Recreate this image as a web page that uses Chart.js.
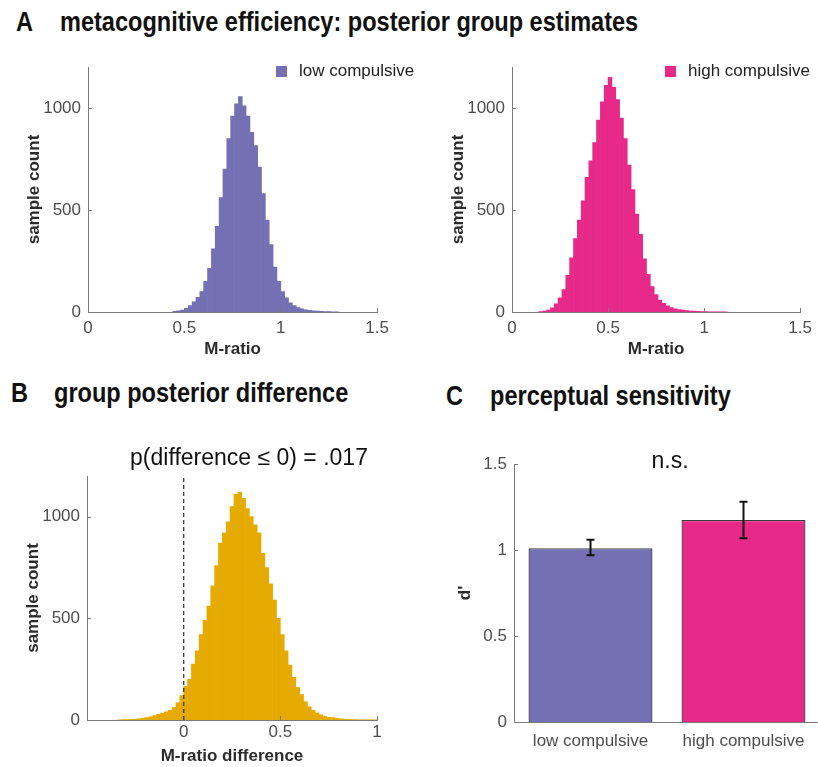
<!DOCTYPE html>
<html>
<head>
<meta charset="utf-8">
<script src="https://cdn.jsdelivr.net/npm/chart.js@4.4.1/dist/chart.umd.min.js"></script>
<style>
  body { margin: 0; width: 818px; height: 767px; overflow: hidden; position: relative; background: #fff;
         font-family: "Liberation Sans", Arial, sans-serif; }
  canvas { position: absolute; }
  /* the figure uses a condensed bold face for panel headings */
  .ttl { position: absolute; white-space: nowrap; line-height: 1; color: #111; transform: scaleX(0.826); transform-origin: 0 0;
         font-family: "Liberation Sans", Arial, sans-serif; font-weight: bold; font-size: 28.5px; }
  .note { position: absolute; white-space: nowrap; line-height: 1; color: #111; font-size: 23px; transform: translate(-50%, -50%); }
  .sw { position: absolute; width: 11px; height: 11px; }
  .lg { position: absolute; white-space: nowrap; line-height: 1; font-size: 17px; color: #222; }
</style>
</head>
<body>
<div class="ttl" style="left:16px;top:7px">A</div>
<div class="ttl" style="left:60px;top:7px">metacognitive efficiency: posterior group estimates</div>
<div class="ttl" style="left:11px;top:378px">B</div>
<div class="ttl" style="left:54px;top:378px">group posterior difference</div>
<div class="ttl" style="left:446px;top:381px">C</div>
<div class="ttl" style="left:490px;top:381px">perceptual sensitivity</div>

<canvas id="histLow" width="395" height="322" style="left:0;top:40px"></canvas>
<canvas id="histHigh" width="398" height="322" style="left:420px;top:40px"></canvas>
<canvas id="histDiff" width="389" height="327" style="left:0;top:440px"></canvas>
<canvas id="barDprime" width="380" height="327" style="left:440px;top:440px"></canvas>

<div class="sw" style="left:276px;top:66px;background:#7570b3"></div>
<div class="lg" style="left:299px;top:62px">low compulsive</div>
<div class="sw" style="left:665px;top:66px;background:#e7298a"></div>
<div class="lg" style="left:688px;top:62px">high compulsive</div>

<div class="note" style="left:249px;top:457px">p(difference ≤ 0) = .017</div>
<div class="note" style="left:670px;top:460px">n.s.</div>

<script>
// posterior samples of M-ratio, binned (bin centres, 0.02 wide) - counts
const lowBins = [0.45, 0.47, 0.49, 0.51, 0.53, 0.55, 0.57, 0.59, 0.61, 0.63, 0.65, 0.67, 0.69, 0.71, 0.73,
  0.75, 0.77, 0.79, 0.81, 0.83, 0.85, 0.87, 0.89, 0.91, 0.93, 0.95, 0.97, 0.99, 1.01, 1.03, 1.05, 1.07,
  1.09, 1.11, 1.13, 1.15, 1.17, 1.19, 1.21, 1.23, 1.25, 1.27, 1.29];
const lowCounts = [3, 6, 10, 18, 32, 50, 72, 100, 150, 214, 310, 420, 560, 700, 850,
  960, 1020, 1055, 1010, 960, 880, 815, 710, 580, 450, 330, 220, 150, 100, 70, 45, 32,
  22, 15, 11, 8, 6, 4, 3, 2, 2, 1, 1];

const highBins = [0.15, 0.17, 0.19, 0.21, 0.23, 0.25, 0.27, 0.29, 0.31, 0.33, 0.35, 0.37, 0.39, 0.41, 0.43,
  0.45, 0.47, 0.49, 0.51, 0.53, 0.55, 0.57, 0.59, 0.61, 0.63, 0.65, 0.67, 0.69, 0.71, 0.73, 0.75, 0.77,
  0.79, 0.81, 0.83, 0.85, 0.87, 0.89, 0.91, 0.93, 0.95, 0.97, 0.99, 1.01, 1.03, 1.05, 1.07, 1.09, 1.11];
const highCounts = [2, 5, 10, 20, 40, 70, 110, 180, 265, 360, 450, 545, 660, 740, 830,
  940, 1030, 1110, 1150, 1100, 1040, 950, 850, 720, 600, 480, 380, 260, 185, 125, 85, 58,
  42, 30, 22, 16, 12, 9, 7, 5, 4, 3, 2, 2, 1, 1, 1, 1, 1];

// group difference (low - high)
const diffBins = [-0.33, -0.31, -0.29, -0.27, -0.25, -0.23, -0.21, -0.19, -0.17, -0.15, -0.13, -0.11,
  -0.09, -0.07, -0.05, -0.03, -0.01, 0.01, 0.03, 0.05, 0.07, 0.09, 0.11, 0.13, 0.15, 0.17, 0.19, 0.21,
  0.23, 0.25, 0.27, 0.29, 0.31, 0.33, 0.35, 0.37, 0.39, 0.41, 0.43, 0.45, 0.47, 0.49, 0.51, 0.53, 0.55,
  0.57, 0.59, 0.61, 0.63, 0.65, 0.67, 0.69, 0.71, 0.73, 0.75, 0.77, 0.79, 0.81, 0.83, 0.85, 0.87, 0.89,
  0.91, 0.93, 0.95, 0.97, 0.99];
const diffCounts = [1, 2, 2, 3, 4, 6, 9, 12, 16, 22, 28, 34,
  40, 48, 62, 85, 120, 165, 200, 275, 340, 420, 490, 560, 660, 760, 870, 920,
  975, 1050, 1110, 1120, 1090, 1040, 1000, 960, 920, 820, 750, 670, 590, 500, 420, 340, 270,
  210, 160, 125, 90, 65, 48, 35, 26, 18, 13, 12, 9, 6, 4, 3, 2, 2,
  1, 1, 1, 1, 1];

// d' per group with error bar ends
const groups = ['low compulsive', 'high compulsive'];
const dprime = [1.01, 1.175];
const dprimeLo = [0.97, 1.068];
const dprimeHi = [1.06, 1.28];

const mRatioTicks = [0, 0.5, 1, 1.5];
const diffTicks = [0, 0.5, 1];
const countTicks = [0, 500, 1000];
const dprimeTicks = [0, 0.5, 1, 1.5];

const PURPLE = '#7570b3';
const PINK = '#e7298a';
const GOLD = '#e6ab02';
const AXIS = '#7a7a7a';
const TICK_TXT = '#4d4d4d';
const TITLE_TXT = '#2b2b2b';
const tickFont = { family: 'Liberation Sans', size: 17 };
const titleFont = { family: 'Liberation Sans', size: 17, weight: 'bold' };

// MATLAB-style tick marks pointing into the axes
const innerTicks = {
  id: 'innerTicks',
  afterDraw(chart, args, opts) {
    const { ctx, chartArea, scales } = chart;
    ctx.save();
    ctx.strokeStyle = AXIS;
    ctx.lineWidth = 1;
    if (opts.x) {
      scales.x.ticks.forEach(t => {
        const px = Math.round(scales.x.getPixelForValue(t.value)) + 0.5;
        ctx.beginPath(); ctx.moveTo(px, chartArea.bottom); ctx.lineTo(px, chartArea.bottom - 4); ctx.stroke();
      });
    }
    if (opts.y) {
      scales.y.ticks.forEach(t => {
        const py = Math.round(scales.y.getPixelForValue(t.value)) + 0.5;
        ctx.beginPath(); ctx.moveTo(chartArea.left, py); ctx.lineTo(chartArea.left + 4, py); ctx.stroke();
      });
    }
    ctx.restore();
  }
};

const errorBars = {
  id: 'errorBars',
  afterDatasetsDraw(chart, args, opts) {
    if (!opts.lo) return;
    const { ctx, scales } = chart;
    ctx.save();
    ctx.strokeStyle = '#111';
    ctx.lineWidth = 2;
    opts.lo.forEach((lo, i) => {
      const x = scales.x.getPixelForValue(i);
      const y1 = scales.y.getPixelForValue(lo);
      const y2 = scales.y.getPixelForValue(opts.hi[i]);
      ctx.beginPath();
      ctx.moveTo(x, y1); ctx.lineTo(x, y2);
      ctx.moveTo(x - 4, y1); ctx.lineTo(x + 4, y1);
      ctx.moveTo(x - 4, y2); ctx.lineTo(x + 4, y2);
      ctx.stroke();
    });
    ctx.restore();
  }
};

function fixedTicks(values) {
  return scale => { scale.ticks = values.map(v => ({ value: v })); };
}

function makeHist(id, bins, counts, color, o) {
  const datasets = [{
    type: 'bar',
    data: bins.map((b, i) => ({ x: b, y: counts[i] })),
    backgroundColor: color,
    borderWidth: 0,
    barPercentage: 1,
    categoryPercentage: 1,
    order: 2
  }];
  if (o.refLine) {
    datasets.push({
      type: 'line',
      data: [{ x: 0, y: 0 }, { x: 0, y: 1200 }],
      borderColor: '#444',
      borderWidth: 1.4,
      borderDash: [4, 3],
      pointRadius: 0,
      order: 1
    });
  }
  return new Chart(document.getElementById(id), {
    type: 'bar',
    data: { datasets },
    plugins: [innerTicks],
    options: {
      responsive: false,
      animation: false,
      events: [],
      layout: { padding: o.padding },
      plugins: { legend: { display: false }, tooltip: { enabled: false }, innerTicks: { x: true, y: true } },
      scales: {
        x: {
          type: 'linear', min: o.xMin, max: o.xMax, offset: false,
          afterBuildTicks: fixedTicks(o.xTicks),
          afterFit: s => { s.height = o.xH; },
          grid: { display: false, drawTicks: false },
          border: { color: AXIS, width: 1 },
          ticks: { font: tickFont, color: TICK_TXT, padding: o.xPad, maxRotation: 0, callback: v => String(v) },
          title: { display: true, text: o.xTitle, font: titleFont, color: TITLE_TXT, padding: { top: 0, bottom: o.xTitlePad } }
        },
        y: {
          min: 0, max: 1200,
          afterBuildTicks: fixedTicks(countTicks),
          afterFit: s => { s.width = o.yW; },
          grid: { display: false, drawTicks: false },
          border: { color: AXIS, width: 1 },
          ticks: { font: tickFont, color: TICK_TXT, padding: 7, callback: v => String(v) },
          title: { display: true, text: 'sample count', font: titleFont, color: TITLE_TXT, padding: { top: o.yTitlePad, bottom: 0 } }
        }
      }
    }
  });
}

makeHist('histLow', lowBins, lowCounts, PURPLE, {
  padding: { top: 27, right: 15, left: 0, bottom: 0 },
  xMin: 0, xMax: 1.5, xTicks: mRatioTicks, xH: 50, xPad: 6, xTitle: 'M-ratio', xTitlePad: 2,
  yW: 88, yTitlePad: 24
});

makeHist('histHigh', highBins, highCounts, PINK, {
  padding: { top: 27, right: 15, left: 0, bottom: 0 },
  xMin: 0, xMax: 1.5, xTicks: mRatioTicks, xH: 50, xPad: 6, xTitle: 'M-ratio', xTitlePad: 2,
  yW: 92, yTitlePad: 28
});

makeHist('histDiff', diffBins, diffCounts, GOLD, {
  padding: { top: 36, right: 12, left: 0, bottom: 0 },
  xMin: -0.5, xMax: 1, xTicks: diffTicks, xH: 47, xPad: 2, xTitle: 'M-ratio difference', xTitlePad: 0,
  yW: 87, yTitlePad: 23, refLine: true
});

new Chart(document.getElementById('barDprime'), {
  type: 'bar',
  data: {
    labels: groups,
    datasets: [{
      data: dprime,
      backgroundColor: [PURPLE, PINK],
      borderColor: '#3a3a3a',
      borderWidth: 1.3,
      barPercentage: 0.81,
      categoryPercentage: 1
    }]
  },
  plugins: [innerTicks, errorBars],
  options: {
    responsive: false,
    animation: false,
    events: [],
    layout: { padding: { top: 24, right: 0, left: 0, bottom: 0 } },
    plugins: {
      legend: { display: false }, tooltip: { enabled: false },
      innerTicks: { x: false, y: true },
      errorBars: { lo: dprimeLo, hi: dprimeHi }
    },
    scales: {
      x: {
        afterFit: s => { s.height = 45; },
        grid: { display: false, drawTicks: false },
        border: { color: AXIS, width: 1 },
        ticks: { font: tickFont, color: TICK_TXT, padding: 9, maxRotation: 0 }
      },
      y: {
        min: 0, max: 1.5,
        afterBuildTicks: fixedTicks(dprimeTicks),
        afterFit: s => { s.width = 74; },
        grid: { display: false, drawTicks: false },
        border: { color: AXIS, width: 1 },
        ticks: { font: tickFont, color: TICK_TXT, padding: 7, callback: v => String(v) },
        title: { display: true, text: "d'", font: titleFont, color: TITLE_TXT, padding: { top: 15, bottom: 0 } }
      }
    }
  }
});
</script>
</body>
</html>
